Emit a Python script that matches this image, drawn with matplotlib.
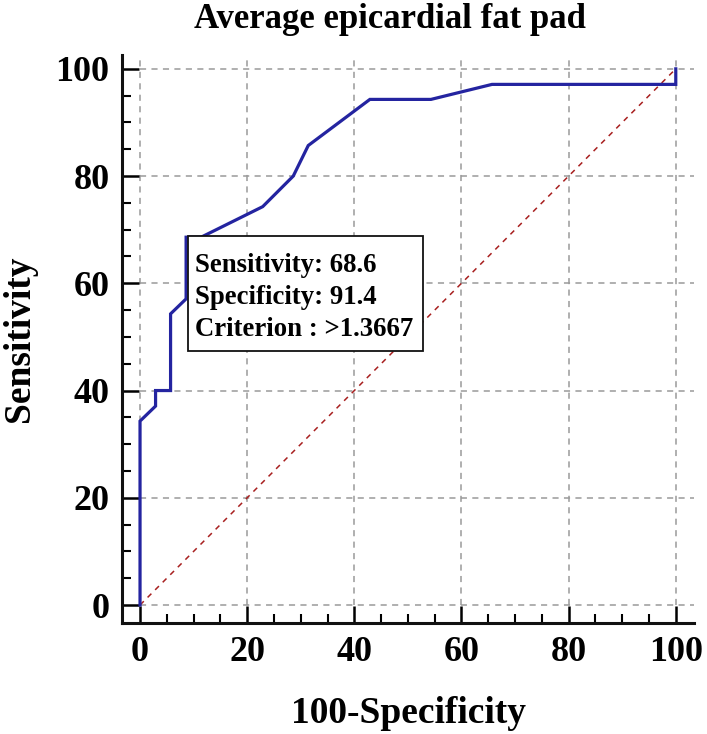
import matplotlib
matplotlib.use("Agg")
import matplotlib.pyplot as plt
from matplotlib.patches import Rectangle
from matplotlib.ticker import MultipleLocator

# ROC curve points (100-Specificity, Sensitivity)
fpr = [0, 0, 2.9, 2.9, 5.7, 5.7, 8.6, 8.6, 11.4, 22.9, 28.6, 31.4, 42.9, 54.3, 65.7, 100, 100]
tpr = [0, 34.3, 37.1, 40.0, 40.0, 54.3, 57.1, 68.6, 68.6, 74.3, 80.0, 85.7, 94.3, 94.3, 97.1, 97.1, 100]
ticks = [0, 20, 40, 60, 80, 100]
cut_x, cut_y = 8.6, 68.6
box_lines = ["Sensitivity: 68.6", "Specificity: 91.4", "Criterion : >1.3667"]
title = "Average epicardial fat pad"
xlabel = "100-Specificity"
ylabel = "Sensitivity"

serif = ["Liberation Serif", "DejaVu Serif"]
plt.rcParams["font.family"] = serif
plt.rcParams["font.weight"] = "bold"

fig = plt.figure(figsize=(7.07, 7.34), dpi=100)
ax = fig.add_axes([0.1726, 0.1512, 0.809, 0.774])
xlo, xhi = -3.36, 103.4
ylo, yhi = -3.36, 102.6
ax.set_xlim(xlo, xhi)
ax.set_ylim(ylo, yhi)

grid_kw = dict(color="#9a9a9a", lw=1.1, linestyles=(0, (4, 3.5)), zorder=1)
ax.vlines(ticks, 0, yhi, **grid_kw)
ax.hlines(ticks, 0, xhi, **grid_kw)

ax.plot([0, 100], [0, 100], color="#A82020", lw=1.1, ls=(0, (3.5, 3.5)), zorder=2)
ax.plot(fpr, tpr, color="#2424A0", lw=2.3, zorder=3, solid_joinstyle="miter")

bw, bh = 44.0, 21.5
ax.add_patch(Rectangle((cut_x + 0.3, cut_y - bh + 0.2), bw, bh, facecolor="white",
                       edgecolor="#111111", lw=1.3, zorder=4))
for i, s in enumerate(box_lines):
    ax.text(cut_x + 1.6, 62.2 - i * 6.05, s, fontsize=19.3, fontweight="bold",
            va="baseline", ha="left", zorder=5, color="black")

ax.set_xticks(ticks)
ax.set_yticks(ticks)
ax.xaxis.set_minor_locator(MultipleLocator(5))
ax.yaxis.set_minor_locator(MultipleLocator(5))
ax.set_xticklabels([str(t) for t in ticks])
ax.set_yticklabels([str(t) for t in ticks])
ax.tick_params(which="major", direction="in", length=12.5, width=1.8, labelsize=26, pad=9)
ax.tick_params(which="minor", direction="in", length=6.5, width=1.5)
for lab in ax.get_xticklabels() + ax.get_yticklabels():
    lab.set_fontweight("bold")

for s in ["top", "right"]:
    ax.spines[s].set_visible(False)
for s in ["left", "bottom"]:
    ax.spines[s].set_linewidth(2.2)
    ax.spines[s].set_color("#111111")

ax.set_xlabel(xlabel, fontsize=27, fontweight="bold", labelpad=20)
ax.set_ylabel(ylabel, fontsize=27, fontweight="bold", labelpad=13)
fig.text(0.552, 0.974, title, fontsize=25, fontweight="bold", ha="center", va="center")

fig.savefig("out.png", dpi=100)
